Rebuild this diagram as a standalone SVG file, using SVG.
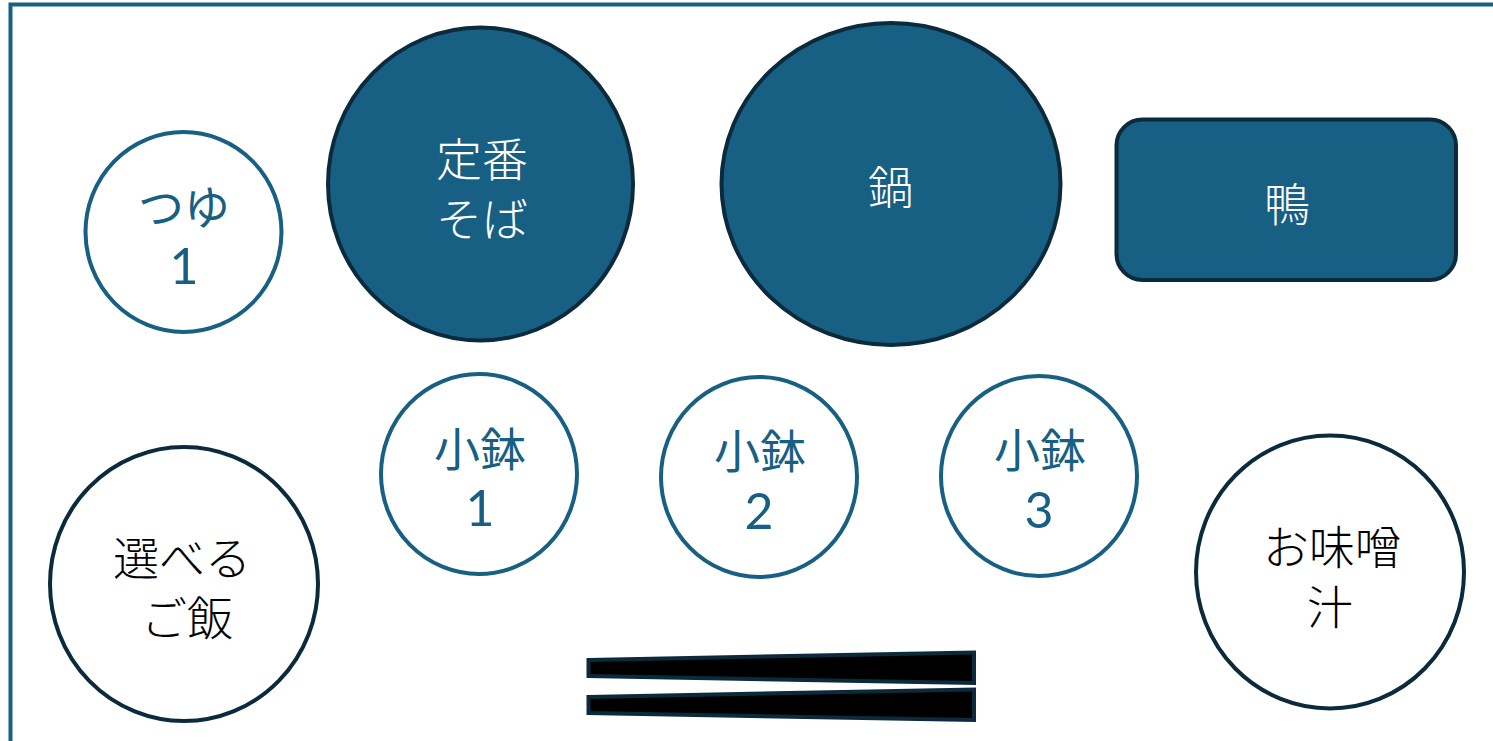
<svg xmlns="http://www.w3.org/2000/svg" width="1493" height="741" viewBox="0 0 1493 741">
<style>
text{font-family:"Noto Sans CJK JP","Noto Sans",sans-serif;text-anchor:middle}
.d{fill:#176083;stroke:#0b2a3c;stroke-width:4}
.o{fill:#fff;stroke:#176083;stroke-width:4}
.k{fill:#fff;stroke:#0b2a3c;stroke-width:4}
.w{fill:#fff;font-size:46px;font-weight:300}
.b{fill:#176083;font-size:46px;font-weight:400}
.n{fill:#176083;font-size:50px;font-weight:400;font-family:"Lato","Noto Sans",sans-serif}
.t{fill:#000;font-size:46px;font-weight:300}
.c{fill:#000;stroke:#0b2a3c;stroke-width:4}
</style>
<rect width="1493" height="741" fill="#fff"/>
<path d="M10.500 741V4.500H1493" fill="none" stroke="#176083" stroke-width="4"/>
<g id="tsuyu"><ellipse class="o" cx="183.500" cy="232" rx="98" ry="100"/><text class="b" x="184" y="224">つゆ</text><text class="n" x="184" y="284">1</text></g>
<g id="soba"><ellipse class="d" cx="480.500" cy="184" rx="152.500" ry="156.500"/><text class="w" x="482" y="176">定番</text><text class="w" x="482" y="236">そば</text></g>
<g id="nabe"><ellipse class="d" cx="891" cy="184" rx="169.500" ry="161"/><text class="w" x="891" y="204">鍋</text></g>
<g id="kamo"><rect class="d" x="1116.500" y="119.500" width="339.500" height="160.500" rx="26"/><text class="w" x="1287" y="221">鴨</text></g>
<g id="kobachi1"><ellipse class="o" cx="479" cy="474" rx="98" ry="100"/><text class="b" x="480" y="466">小鉢</text><text class="n" x="480" y="526">1</text></g>
<g id="kobachi2"><ellipse class="o" cx="759" cy="477" rx="98" ry="100"/><text class="b" x="760" y="468">小鉢</text><text class="n" x="759" y="529">2</text></g>
<g id="kobachi3"><ellipse class="o" cx="1039" cy="476" rx="98" ry="100"/><text class="b" x="1040" y="467">小鉢</text><text class="n" x="1039" y="528">3</text></g>
<g id="gohan"><ellipse class="k" cx="184" cy="584" rx="134" ry="137"/><text class="t" x="182" y="575">選べる</text><text class="t" x="187" y="635">ご飯</text></g>
<g id="misoshiru"><ellipse class="k" cx="1330" cy="572" rx="134" ry="136.500"/><text class="t" x="1332" y="564">お味噌</text><text class="t" x="1330" y="624">汁</text></g>
<g id="chopsticks"><polygon class="c" points="588.500,660 974,652.500 974,683 588.500,676"/><polygon class="c" points="588.500,697 974,689.500 974,720 588.500,713"/></g>
</svg>
